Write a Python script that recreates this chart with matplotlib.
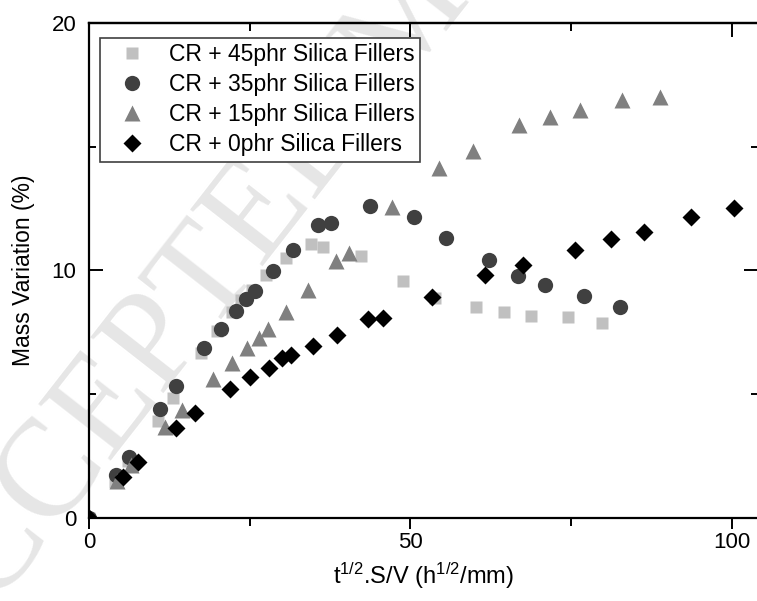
import numpy as np
import matplotlib.pyplot as plt
from matplotlib.legend_handler import HandlerLine2D

plt.rcParams['font.family'] = ['Liberation Sans', 'DejaVu Sans']
plt.rcParams['mathtext.fontset'] = 'custom'
plt.rcParams['mathtext.rm'] = 'Liberation Sans'
plt.rcParams['mathtext.it'] = 'Liberation Sans'

# CR + 45phr Silica Fillers
x45 = [0, 4.0, 6.0, 10.7, 13.0, 17.4, 19.9, 22.2, 23.7, 25.3, 27.6, 30.6, 34.5, 36.4,
       42.3, 48.9, 53.8, 60.2, 64.5, 68.7, 74.5, 79.9]
y45 = [0, 1.47, 2.3, 3.92, 4.84, 6.65, 7.57, 8.30, 8.81, 9.2, 9.82, 10.49, 11.07, 10.94,
       10.56, 9.58, 8.87, 8.54, 8.31, 8.16, 8.11, 7.87]

# CR + 35phr Silica Fillers
x35 = [0, 4.2, 6.3, 11.0, 13.5, 17.9, 20.6, 22.9, 24.5, 25.8, 28.6, 31.7, 35.7, 37.6,
       43.8, 50.5, 55.6, 62.3, 66.8, 71.0, 77.1, 82.6]
y35 = [0, 1.74, 2.48, 4.40, 5.31, 6.86, 7.62, 8.34, 8.84, 9.18, 9.97, 10.83, 11.84, 11.93,
       12.58, 12.15, 11.30, 10.42, 9.78, 9.41, 8.98, 8.51]

# CR + 15phr Silica Fillers
x15 = [0, 4.3, 6.6, 11.8, 14.4, 19.3, 22.2, 24.6, 26.5, 27.9, 30.7, 34.1, 38.4, 40.4,
       47.1, 54.4, 59.8, 66.9, 71.8, 76.4, 82.9, 88.8]
y15 = [0, 1.5, 2.14, 3.69, 4.36, 5.60, 6.25, 6.86, 7.28, 7.62, 8.30, 9.21, 10.36, 10.69,
       12.54, 14.13, 14.80, 15.88, 16.19, 16.48, 16.86, 17.0]

# CR + 0phr Silica Fillers
x0 = [0, 5.3, 7.7, 13.5, 16.5, 22.0, 25.1, 28.0, 30.0, 31.5, 34.8, 38.6, 43.4, 45.8,
      53.3, 61.6, 67.5, 75.7, 81.2, 86.4, 93.7, 100.4]
y0 = [0, 1.64, 2.28, 3.62, 4.23, 5.21, 5.71, 6.07, 6.45, 6.59, 6.96, 7.37, 8.04, 8.07,
      8.92, 9.82, 10.22, 10.83, 11.27, 11.54, 12.17, 12.51]


class MarkerRight(HandlerLine2D):
    # puts the single legend marker a bit right of the handle centre
    def get_xdata(self, legend, xdescent, ydescent, width, height, fontsize):
        xdata, _ = super().get_xdata(legend, xdescent, ydescent, width, height, fontsize)
        return xdata, [-xdescent + 0.72 * width]


fig = plt.figure(figsize=(7.57, 6.01), dpi=100)

# faint watermark, behind everything
fig.text(-0.088, -0.146, 'ACCEPTED MANUSCRIPT', fontsize=100, family='Liberation Serif',
         color='#e6e6e6', rotation=52, ha='left', va='baseline',
         rotation_mode='anchor', zorder=-5)

ax = fig.add_axes([89 / 757, 83 / 601, 669 / 757, 495.3 / 601])
ax.patch.set_alpha(0)

ax.plot(x45, y45, 's', color='#c0c0c0', ms=8, mec='none', label='CR + 45phr Silica Fillers')
ax.plot(x35, y35, 'o', color='#404040', ms=11, mec='none', label='CR + 35phr Silica Fillers')
ax.plot(x15, y15, '^', color='#808080', ms=11, mec='none', label='CR + 15phr Silica Fillers')
ax.plot(x0, y0, 'D', color='black', ms=9, mec='none', label='CR + 0phr Silica Fillers')

ax.set_xlim(0, 104.1)
ax.set_ylim(0, 20)
ax.set_xticks([0, 50, 100])
ax.set_xticks([25, 75], minor=True)
ax.set_yticks([0, 10, 20])
ax.set_yticks([5, 15], minor=True)

for s in ax.spines.values():
    s.set_linewidth(1.6)

ax.tick_params(axis='x', which='both', direction='out', bottom=True, top=False,
               labelsize=16, width=1.4, pad=2)
ax.tick_params(axis='x', which='major', length=8)
ax.tick_params(axis='x', which='minor', length=6)
ax.tick_params(axis='y', which='both', direction='in', left=True, right=True,
               labelsize=16, width=1.4, pad=9)
ax.tick_params(axis='y', which='major', length=10)
ax.tick_params(axis='y', which='minor', length=5)

# top axis ticks pointing in
sec = ax.secondary_xaxis('top')
sec.set_xticks([0, 50, 100])
sec.set_xticks([25, 75], minor=True)
sec.tick_params(which='both', direction='in', labeltop=False, width=1.4)
sec.tick_params(which='major', length=10)
sec.tick_params(which='minor', length=6)
sec.spines['top'].set_linewidth(1.6)

ax.set_xlabel(r't$^{1/2}$.S/V (h$^{1/2}$/mm)', fontsize=17, labelpad=6)
ax.set_ylabel('Mass Variation (%)', fontsize=16.5, labelpad=12)

leg = ax.legend(loc='upper left', bbox_to_anchor=(11 / 669, 1 - 15 / 495.3), fontsize=16.5,
                frameon=True, fancybox=False, framealpha=1, edgecolor='#404040',
                borderpad=0.25, borderaxespad=0, labelspacing=0.3, handlelength=2.3,
                handletextpad=0.45, numpoints=1, handler_map={plt.Line2D: MarkerRight()})
leg.get_frame().set_linewidth(1.2)

fig.savefig('out.png', dpi=100)
